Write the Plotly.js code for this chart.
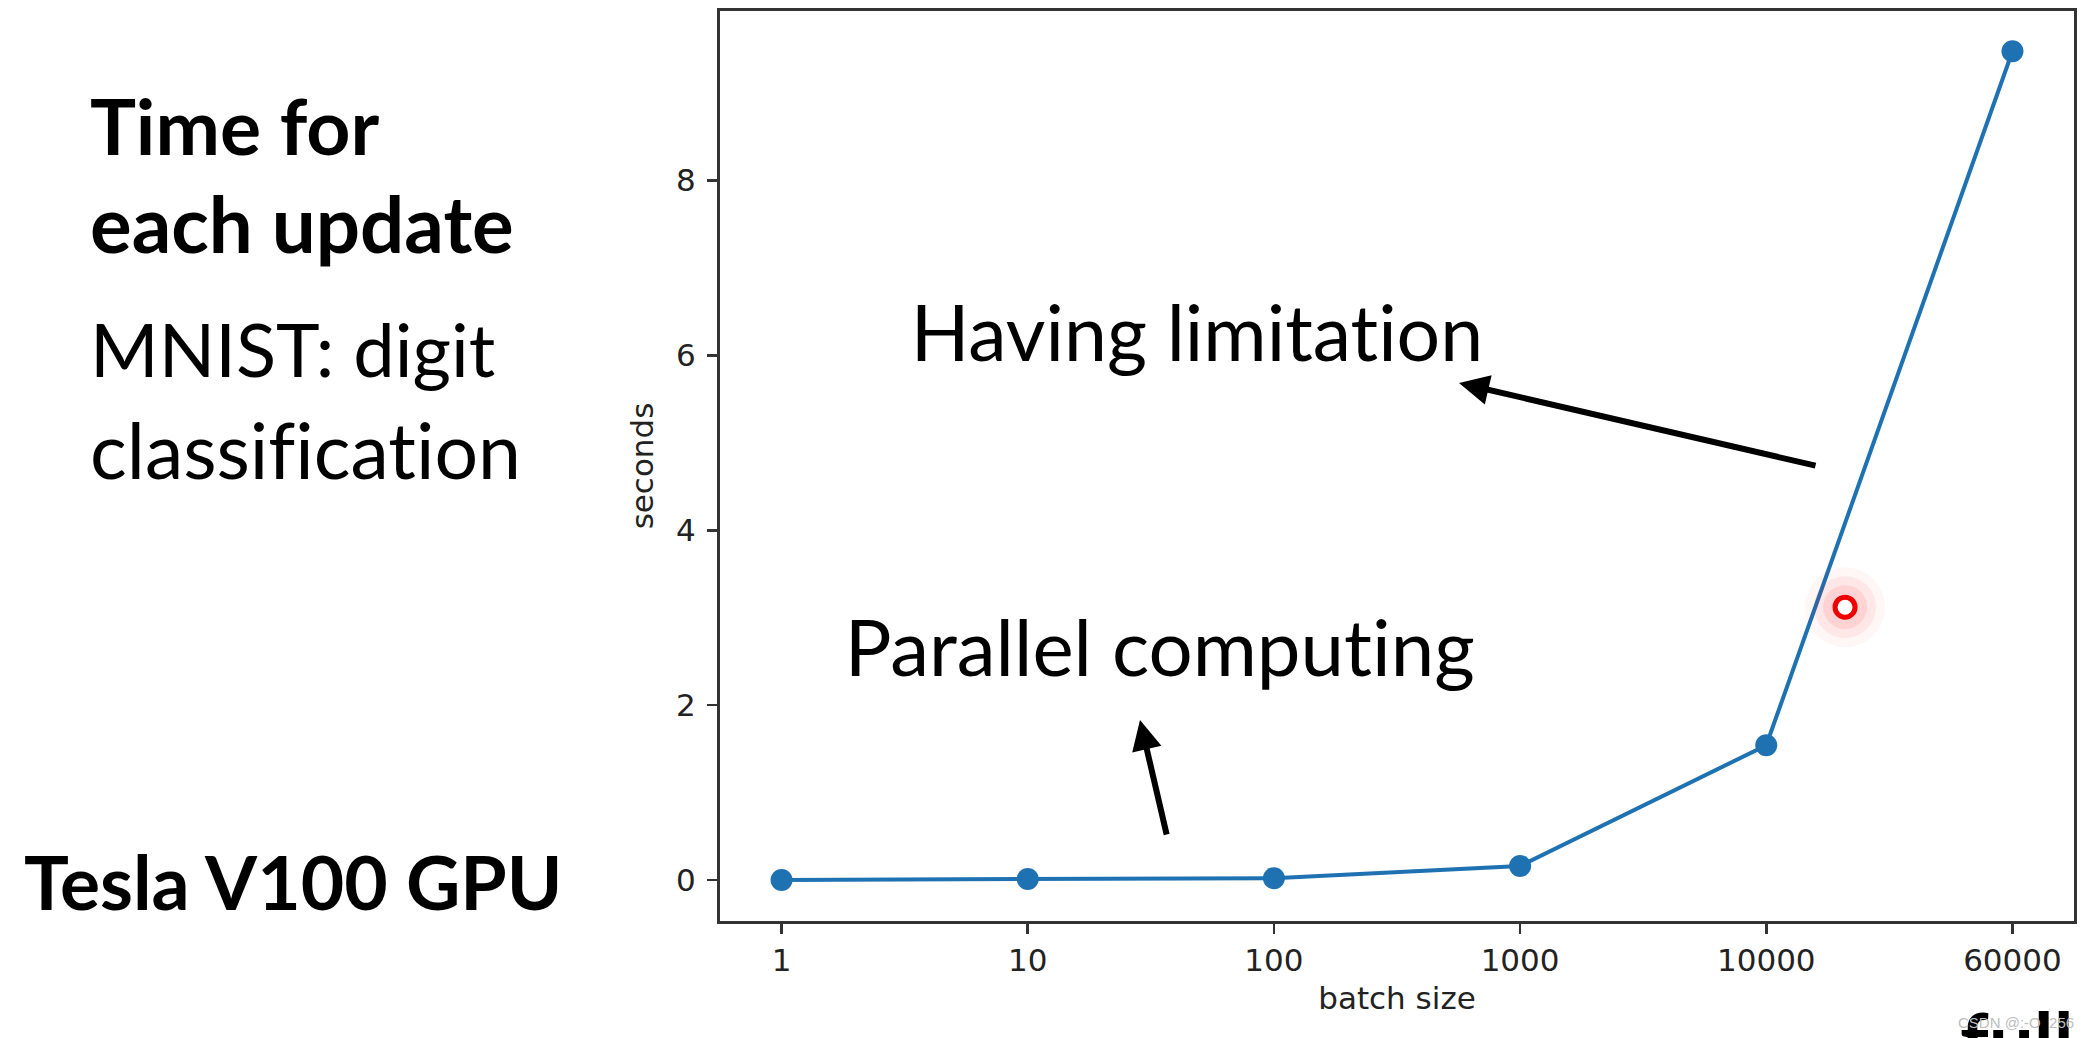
<!DOCTYPE html>
<html>
<head>
<meta charset="utf-8">
<script src="https://cdn.plot.ly/plotly-3.0.1.min.js"></script>
<style>
html,body{margin:0;padding:0;background:#fff;}
#chart{width:2086px;height:1038px;}
#chart text{font-variant-ligatures:none;font-feature-settings:"liga" 0,"clig" 0;}
</style>
</head>
<body>
<div id="chart"></div>
<script>
// ---- data ----
const batchSizes = ['1', '10', '100', '1000', '10000', '60000'];
const seconds = [0.0, 0.01, 0.02, 0.16, 1.54, 9.48];
const yTicks = [0, 2, 4, 6, 8];
const cursorX = [4.32];
const cursorY = [3.12];

const xIdx = batchSizes.map((_, i) => i);

// ---- layout helpers (plot area in page pixels) ----
const L = 720, R = 2074, T = 11, B = 921;
const W = 2086, H = 1038;
const px = x => (x - L) / (R - L);
const py = y => (B - y) / (B - T);

const slideFont = 'Lato, "Open Sans", sans-serif';
const tickFont = '"DejaVu Sans", sans-serif';

function txt(text, x, yTop, size, bold) {
  return {
    text: bold ? '<b>' + text + '</b>' : text,
    xref: 'paper', yref: 'paper',
    x: px(x), y: py(yTop),
    xanchor: 'left', yanchor: 'top',
    showarrow: false,
    font: {family: slideFont, size: size, color: '#000'}
  };
}
function arrow(hx, hy, tx, ty) {
  return {
    text: '',
    xref: 'paper', yref: 'paper',
    x: px(hx), y: py(hy),
    ax: tx - hx, ay: ty - hy,
    showarrow: true,
    arrowhead: 2, arrowsize: 1, arrowwidth: 6, arrowcolor: '#000',
    standoff: 0, startstandoff: 0
  };
}

const traces = [
  {
    x: xIdx, y: seconds,
    type: 'scatter', mode: 'lines+markers',
    line: {color: '#1f72b2', width: 4},
    marker: {color: '#1f72b2', size: 22},
    hoverinfo: 'skip'
  },
  {
    x: cursorX, y: cursorY, type: 'scatter', mode: 'markers',
    marker: {size: 80, color: 'rgba(255,0,0,0.035)'}, hoverinfo: 'skip'
  },
  {
    x: cursorX, y: cursorY, type: 'scatter', mode: 'markers',
    marker: {size: 62, color: 'rgba(255,0,0,0.06)'}, hoverinfo: 'skip'
  },
  {
    x: cursorX, y: cursorY, type: 'scatter', mode: 'markers',
    marker: {size: 44, color: 'rgba(255,40,40,0.10)'}, hoverinfo: 'skip'
  },
  {
    x: cursorX, y: cursorY, type: 'scatter', mode: 'markers',
    marker: {size: 20, color: '#fff', line: {color: '#ee0000', width: 5}}, hoverinfo: 'skip'
  }
];

const layout = {
  width: W, height: H,
  margin: {l: L, r: W - R, t: T, b: H - B, pad: 0},
  paper_bgcolor: '#fff', plot_bgcolor: '#fff',
  showlegend: false,
  xaxis: {
    type: 'linear', range: [-0.25, 5.25],
    tickvals: xIdx, ticktext: batchSizes,
    ticks: 'outside', ticklen: 10, tickwidth: 2.5, tickcolor: '#333',
    showline: true, linecolor: '#333', linewidth: 3, mirror: true,
    showgrid: false, zeroline: false,
    tickfont: {family: tickFont, size: 31, color: '#222'},
    title: {text: 'batch size', font: {family: tickFont, size: 31, color: '#222'}, standoff: 11}
  },
  yaxis: {
    range: [-0.47, 9.94],
    tickvals: yTicks, ticktext: yTicks.map(String),
    ticks: 'outside', ticklen: 10, tickwidth: 2.5, tickcolor: '#333',
    ticklabelstandoff: 5,
    showline: true, linecolor: '#333', linewidth: 3, mirror: true,
    showgrid: false, zeroline: false,
    tickfont: {family: tickFont, size: 31, color: '#222'},
    title: {text: 'seconds', font: {family: tickFont, size: 31, color: '#222'}, standoff: 14}
  },
  annotations: [
    txt('Time for', 88, 77, 77, true),
    txt('each update', 88, 174, 78, true),
    txt('MNIST: digit', 88, 302, 74, false),
    txt('classification', 88, 401, 77, false),
    txt('Tesla V100 GPU', 22, 834, 75, true),
    txt('Having limitation', 908, 283, 77, false),
    txt('Parallel computing', 842, 597, 78, false),
    arrow(1459, 383, 1817, 466),
    arrow(1140, 720, 1167, 836),
    txt('full', 1958, 990, 80, true),
    {
      text: 'CSDN @:-O  256', xref: 'paper', yref: 'paper',
      x: px(1956), y: py(1012), xanchor: 'left', yanchor: 'top', showarrow: false,
      font: {family: '"Liberation Sans", sans-serif', size: 15, color: '#bdbdbd'}
    }
  ]
};

Plotly.newPlot('chart', traces, layout, {staticPlot: true, displayModeBar: false});
</script>
</body>
</html>
